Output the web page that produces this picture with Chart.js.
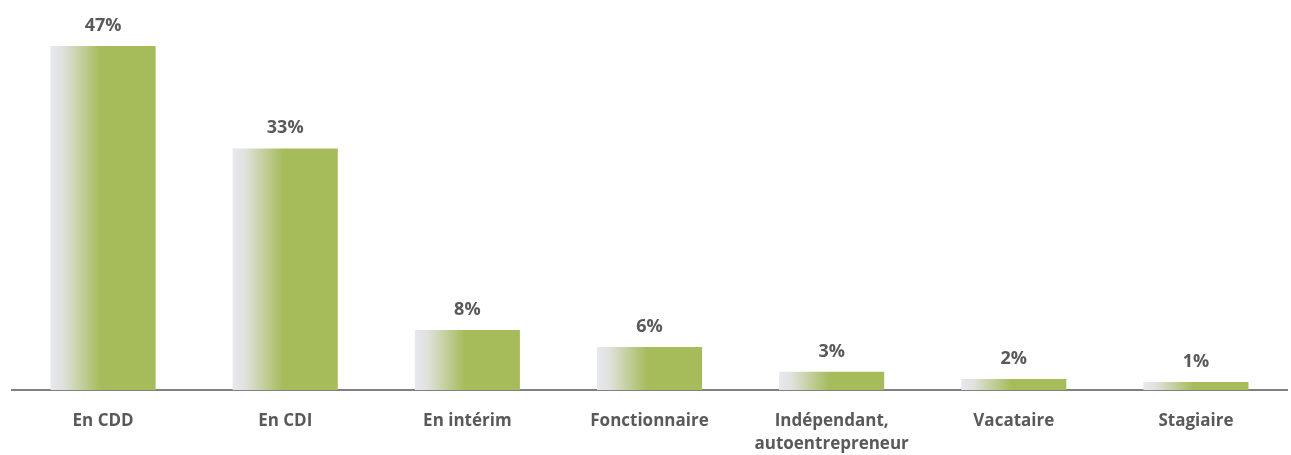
<!DOCTYPE html>
<html><head><meta charset="utf-8">
<script src="https://cdn.jsdelivr.net/npm/chart.js@4.4.0/dist/chart.umd.min.js"></script>
<style>html,body{margin:0;padding:0;background:#fff;}#wrap{width:1291px;height:455px;}</style>
</head><body><div id="wrap"><canvas id="c" width="1291" height="455"></canvas></div>
<script>
const categories = ["En CDD", "En CDI", "En intérim", "Fonctionnaire", ["Indépendant,", "autoentrepreneur"], "Vacataire", "Stagiaire"];
const values = [47, 33, 8.2, 5.9, 2.5, 1.5, 1.1];
const valueLabels = ["47%", "33%", "8%", "6%", "3%", "2%", "1%"];

const barPct = 0.577;
const textColor = '#595959';
const fontFamily = '"Open Sans", "Liberation Sans", sans-serif';

const labelPlugin = {
  id: 'valueLabels',
  afterDatasetsDraw(chart) {
    const ctx = chart.ctx;
    const meta = chart.getDatasetMeta(0);
    ctx.save();
    ctx.fillStyle = textColor;
    ctx.font = 'bold 18px ' + fontFamily;
    ctx.textAlign = 'center';
    ctx.textBaseline = 'alphabetic';
    meta.data.forEach((el, i) => {
      ctx.fillText(valueLabels[i], el.x, el.y - 15);
    });
    ctx.restore();
  }
};

new Chart(document.getElementById('c'), {
  type: 'bar',
  data: {
    labels: categories,
    datasets: [{
      data: values,
      borderWidth: 0,
      barPercentage: barPct,
      categoryPercentage: 1,
      backgroundColor: (c) => {
        const chart = c.chart;
        const xs = chart.scales.x;
        if (!chart.chartArea || !xs || c.type !== 'data') return '#a6bb5a';
        const cx = xs.getPixelForValue(c.dataIndex);
        const w = (xs.right - xs.left) / categories.length * barPct;
        const g = chart.ctx.createLinearGradient(cx - w / 2, 0, cx + w / 2, 0);
        g.addColorStop(0, '#e6e8ef');
        g.addColorStop(0.12, '#dfe2dc');
        g.addColorStop(0.48, '#a6bb5a');
        g.addColorStop(1, '#a6bb5a');
        return g;
      }
    }]
  },
  options: {
    responsive: false,
    animation: false,
    devicePixelRatio: 1,
    layout: { padding: { left: 12, right: 4, top: 24, bottom: -21 } },
    plugins: { legend: { display: false }, tooltip: { enabled: false } },
    scales: {
      y: { display: false, min: 0, max: 50 },
      x: {
        grid: { display: false, drawTicks: false },
        border: { display: true, color: '#808080', width: 2 },
        ticks: {
          color: textColor,
          font: { family: fontFamily, weight: 'bold', size: 17, lineHeight: 1.35 },
          padding: 20,
          maxRotation: 0,
          autoSkip: false
        }
      }
    }
  },
  plugins: [labelPlugin]
});
</script></body></html>
